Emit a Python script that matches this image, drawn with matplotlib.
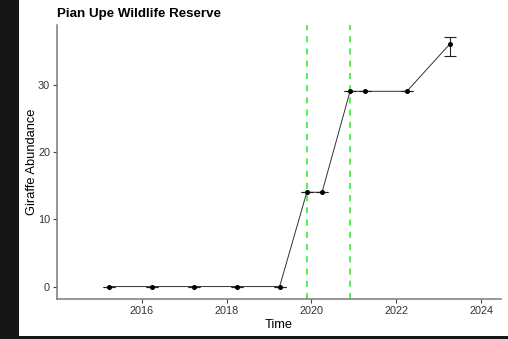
import matplotlib
matplotlib.use("Agg")
import matplotlib.pyplot as plt
from matplotlib.patches import Rectangle

plt.rcParams['font.family'] = ['Liberation Sans', 'DejaVu Sans']

# data
time = [2015.22, 2016.24, 2017.23, 2018.24, 2019.25, 2019.89, 2020.25, 2020.91, 2021.26, 2022.25, 2023.26]
abundance = [0, 0, 0, 0, 0, 14, 14, 29, 29, 29, 36]
lower = [0, 0, 0, 0, 0, 14, 14, 29, 29, 29, 34.2]
upper = [0, 0, 0, 0, 0, 14, 14, 29, 29, 29, 37.0]
events = [2019.89, 2020.91]
xticks = [2016, 2018, 2020, 2022, 2024]
yticks = [0, 10, 20, 30]

fig = plt.figure(figsize=(5.08, 3.39), dpi=100, facecolor='#161616')
# white page area (screenshot has a dark border left and bottom)
fig.patches.append(Rectangle((19 / 508, 3 / 339), 1, 1, transform=fig.transFigure,
                             facecolor='white', edgecolor='none', zorder=-10))

ax = fig.add_axes([57 / 508, 1 - 299 / 339, (501 - 57) / 508, (299 - 25) / 339])
ax.set_facecolor('white')

for x in events:
    ax.axvline(x, color='#22EE22', linestyle=(0, (4, 4)), linewidth=1.1, zorder=1)

ax.plot(time, abundance, color='#333333', linewidth=0.7, zorder=2)
yerr = [[a - l for a, l in zip(abundance, lower)], [u - a for a, u in zip(abundance, upper)]]
ax.errorbar(time, abundance, yerr=yerr, fmt='none', ecolor='#222222',
            elinewidth=0.8, capsize=4, capthick=0.8, zorder=3)
ax.plot(time, abundance, 'o', color='black', markersize=2.6, zorder=4)

ax.set_xlim(2014.0, 2024.47)
ax.set_ylim(-1.85, 38.85)
ax.set_xticks(xticks)
ax.set_yticks(yticks)

for side in ['top', 'right']:
    ax.spines[side].set_visible(False)
for side in ['left', 'bottom']:
    ax.spines[side].set_color('#7a7a7a')
    ax.spines[side].set_linewidth(1.1)
ax.tick_params(length=3, width=0.8, color='#444444', labelcolor='#333333', labelsize=7.8, pad=2)

ax.set_xlabel('Time', fontsize=9.3, color='black', labelpad=2)
ax.set_ylabel('Giraffe Abundance', fontsize=9.3, color='black', labelpad=0)
ax.set_title('Pian Upe Wildlife Reserve', fontsize=9.6, fontweight='bold', loc='left', pad=6)

fig.savefig('out.png', dpi=100, facecolor=fig.get_facecolor())
